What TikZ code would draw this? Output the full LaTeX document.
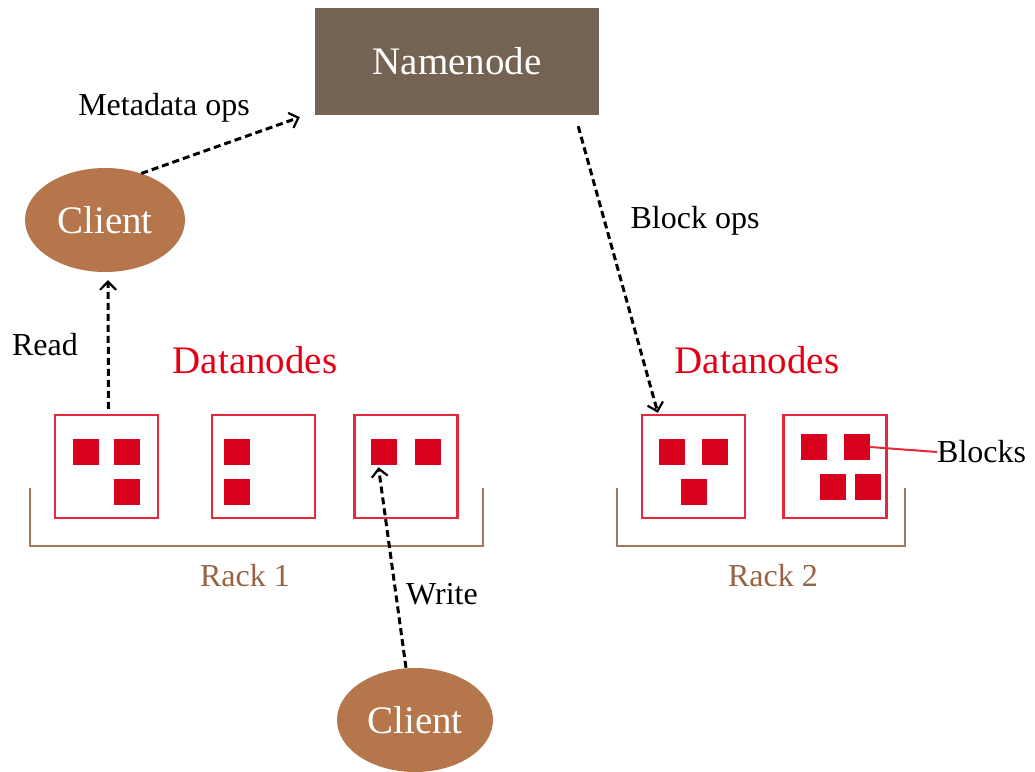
\documentclass[tikz,border=0pt]{standalone}
\usepackage{fontspec}
\setmainfont{Liberation Serif}
\usetikzlibrary{shapes.geometric,arrows.meta,calc}
\definecolor{nnbrown}{RGB}{116,99,82}
\definecolor{clbrown}{RGB}{181,118,76}
\definecolor{blk}{RGB}{215,0,29}
\definecolor{boxred}{RGB}{230,40,60}
\definecolor{rackc}{RGB}{166,118,88}
\definecolor{dnred}{RGB}{228,0,20}
\definecolor{racktxt}{RGB}{150,100,68}
\begin{document}
\begin{tikzpicture}[x=1pt,y=-1pt,
  lbl/.style={font=\fontsize{32}{36}\selectfont, inner sep=0pt},
  big/.style={font=\fontsize{39}{44}\selectfont, inner sep=0pt},
  client/.style={ellipse, fill=clbrown, minimum width=160pt, minimum height=104pt, inner sep=0pt, text=white, big},
  dnbox/.style={draw=boxred, line width=2.4pt, minimum width=103pt, minimum height=103pt, inner sep=0pt},
  blockbox/.style={fill=blk, minimum size=26pt, inner sep=0pt},
  rack/.style={draw=rackc, line width=2.4pt},
  flow/.style={draw=black, line width=3pt, dash pattern=on 7pt off 4pt, -{Straight Barb[length=8pt,width=16pt,line width=2.2pt]}}
]
\useasboundingbox[fill=white] (0,0) rectangle (1035,771);

% Namenode
\node[fill=nnbrown, minimum width=284pt, minimum height=107pt, inner sep=0pt, text=white, big] (nn) at (457,61.5) {Namenode};

% Clients
\node[client] (c1) at (105,220) {Client};
\node[client, minimum width=156pt] (c2) at (415,720) {Client};

% Datanode boxes
\node[dnbox] (d1) at (106.5,466.5) {};
\node[dnbox] (d2) at (263.5,466.5) {};
\node[dnbox] (d3) at (406,466.5) {};
\node[dnbox] (d4) at (693.5,466.5) {};
\node[dnbox] (d5) at (835,466.5) {};

% Blocks
\node[blockbox] (b11) at (86,452) {};
\node[blockbox] (b12) at (127,452) {};
\node[blockbox] (b13) at (127,492) {};
\node[blockbox] (b21) at (237,452) {};
\node[blockbox] (b22) at (237,492) {};
\node[blockbox] (b31) at (383.5,452) {};
\node[blockbox] (b32) at (427.5,452) {};
\node[blockbox] (b41) at (671.5,452) {};
\node[blockbox] (b42) at (715,452) {};
\node[blockbox] (b43) at (693.5,492) {};
\node[blockbox] (b51) at (813.5,447) {};
\node[blockbox] (b52) at (857,447) {};
\node[blockbox] (b53) at (833,487) {};
\node[blockbox] (b54) at (867.5,487) {};

% Racks
\coordinate (r1a) at (30,488);
\coordinate (r1b) at (483,546);
\coordinate (r2a) at (617,488);
\coordinate (r2b) at (905,546);
\draw[rack] (r1a) |- (r1b) -- (r1b |- r1a);
\draw[rack] (r2a) |- (r2b) -- (r2b |- r2a);

% Labels
\node[lbl] (meta) at (164,108) {Metadata ops};
\node[lbl] (bops) at (695,221) {Block ops};
\node[lbl] (read) at (45,345) {Read};
\node[lbl] (write) at (442,594) {Write};
\node[lbl, anchor=west] (blocks) at (937,452) {Blocks};
\node[big, text=dnred] (dn1) at (255,360) {Datanodes};
\node[big, text=dnred] (dn2) at (757,360) {Datanodes};
\node[lbl, text=racktxt] (rk1) at (245,576) {Rack 1};
\node[lbl, text=racktxt] (rk2) at (773,576) {Rack 2};

% Connectors
\draw[flow] (c1.52) -- ($(nn.south west)+(-15,2)$);
\draw[flow] ($(d1.north)+(2,-5)$) -- ($(c1.south)+(3,8)$);
\draw[flow] ($(nn.south east)+(-21,11)$) -- ($(d4.north west)+(17,-1)$);
\draw[flow] ($(c2.north)+(-9,0)$) -- ($(b31.south)+(-5,2)$);
\draw[draw=boxred, line width=2pt] (b52.east) -- (blocks.west);
\end{tikzpicture}
\end{document}
